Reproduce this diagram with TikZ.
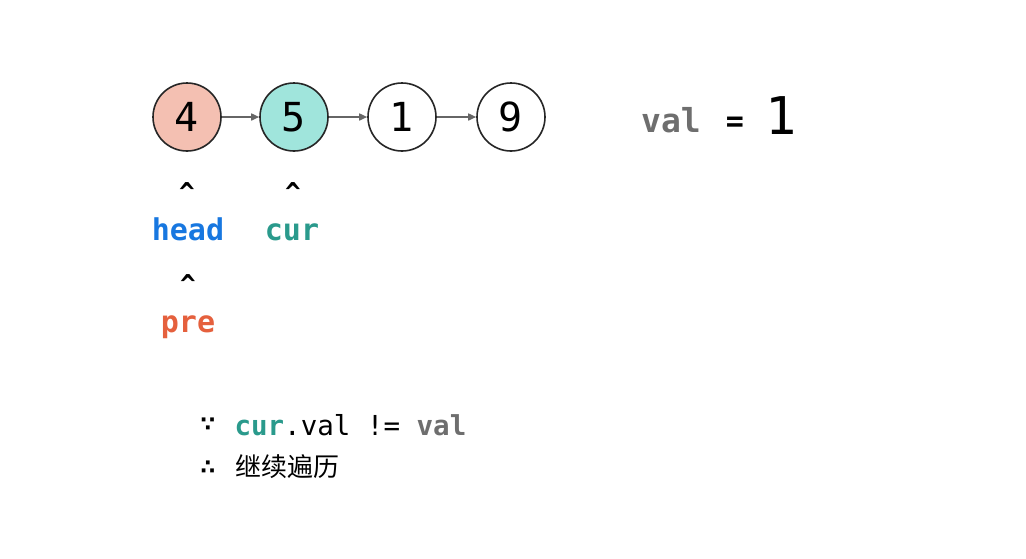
\documentclass[tikz,border=0pt]{standalone}
\usepackage{fontspec}
\setmonofont{DejaVu Sans Mono}
\newfontfamily\cjk{Noto Sans CJK SC}
\newfontfamily\dejavu{DejaVu Sans}
\usetikzlibrary{arrows.meta}

\definecolor{preRed}{HTML}{E5603D}
\definecolor{headBlue}{HTML}{1777E0}
\definecolor{curTeal}{HTML}{2A9A8C}
\definecolor{valGray}{HTML}{6E6E6E}
\definecolor{nodeRed}{HTML}{F4C0B2}
\definecolor{nodeTeal}{HTML}{A0E5DC}

\tikzset{
  listnode/.style={circle,draw=black!85,line width=1.6pt,minimum size=68pt,inner sep=0pt,
    font=\ttfamily\fontsize{40}{48}\selectfont},
  link/.style={-{Triangle[length=8pt,width=7pt]},draw=black!60,line width=1.6pt},
  caret/.style={font=\ttfamily\bfseries\fontsize{26}{30}\selectfont},
  ptr/.style={anchor=base,font=\ttfamily\bfseries\fontsize{30}{36}\selectfont},
  cond/.style={anchor=base west,font=\ttfamily\fontsize{27.5}{32}\selectfont},
  logic/.style={font=\dejavu\bfseries\fontsize{21}{26}\selectfont}
}

\begin{document}
\begin{tikzpicture}[x=1pt,y=-1pt]
  \useasboundingbox[fill=white] (0,0) rectangle (1026,558);
  % linked list
  \node[listnode,fill=nodeRed]  (n4) at (187,117) {4};
  \node[listnode,fill=nodeTeal] (n5) at (294,117) {5};
  \node[listnode]               (n1) at (402,117) {1};
  \node[listnode]               (n9) at (511,117) {9};
  \draw[link] (n4) -- (n5);
  \draw[link] (n5) -- (n1);
  \draw[link] (n1) -- (n9);
  % target value
  \node[ptr,text=valGray,font=\ttfamily\bfseries\fontsize{33}{36}\selectfont] (valname) at (671,132) {val};
  \node[ptr] (valeq) at (735,131) {=};
  \node[font=\ttfamily\fontsize{52}{60}\selectfont] (valnum) at (781,116) {1};
  % pointers
  \node[caret] (c1) at (187,192) {\^{}};
  \node[caret] (c2) at (293,192) {\^{}};
  \node[ptr,text=headBlue] (head) at (188,240) {head};
  \node[ptr,text=curTeal]  (cur)  at (292,240) {cur};
  \node[caret] (c3) at (188,284) {\^{}};
  \node[ptr,text=preRed]   (pre)  at (188,332) {pre};
  % condition
  \node[logic] (since) at (208,425) {∵};
  \node[cond] (cond1) at (231,435) {\textbf{\textcolor{curTeal}{cur}}.val != \textbf{\textcolor{valGray}{val}}};
  \node[logic] (hence) at (208,468) {∴};
  \node[anchor=west,font=\cjk\fontsize{26}{30}\selectfont] (cond2) at (232,467) {继续遍历};
\end{tikzpicture}
\end{document}
